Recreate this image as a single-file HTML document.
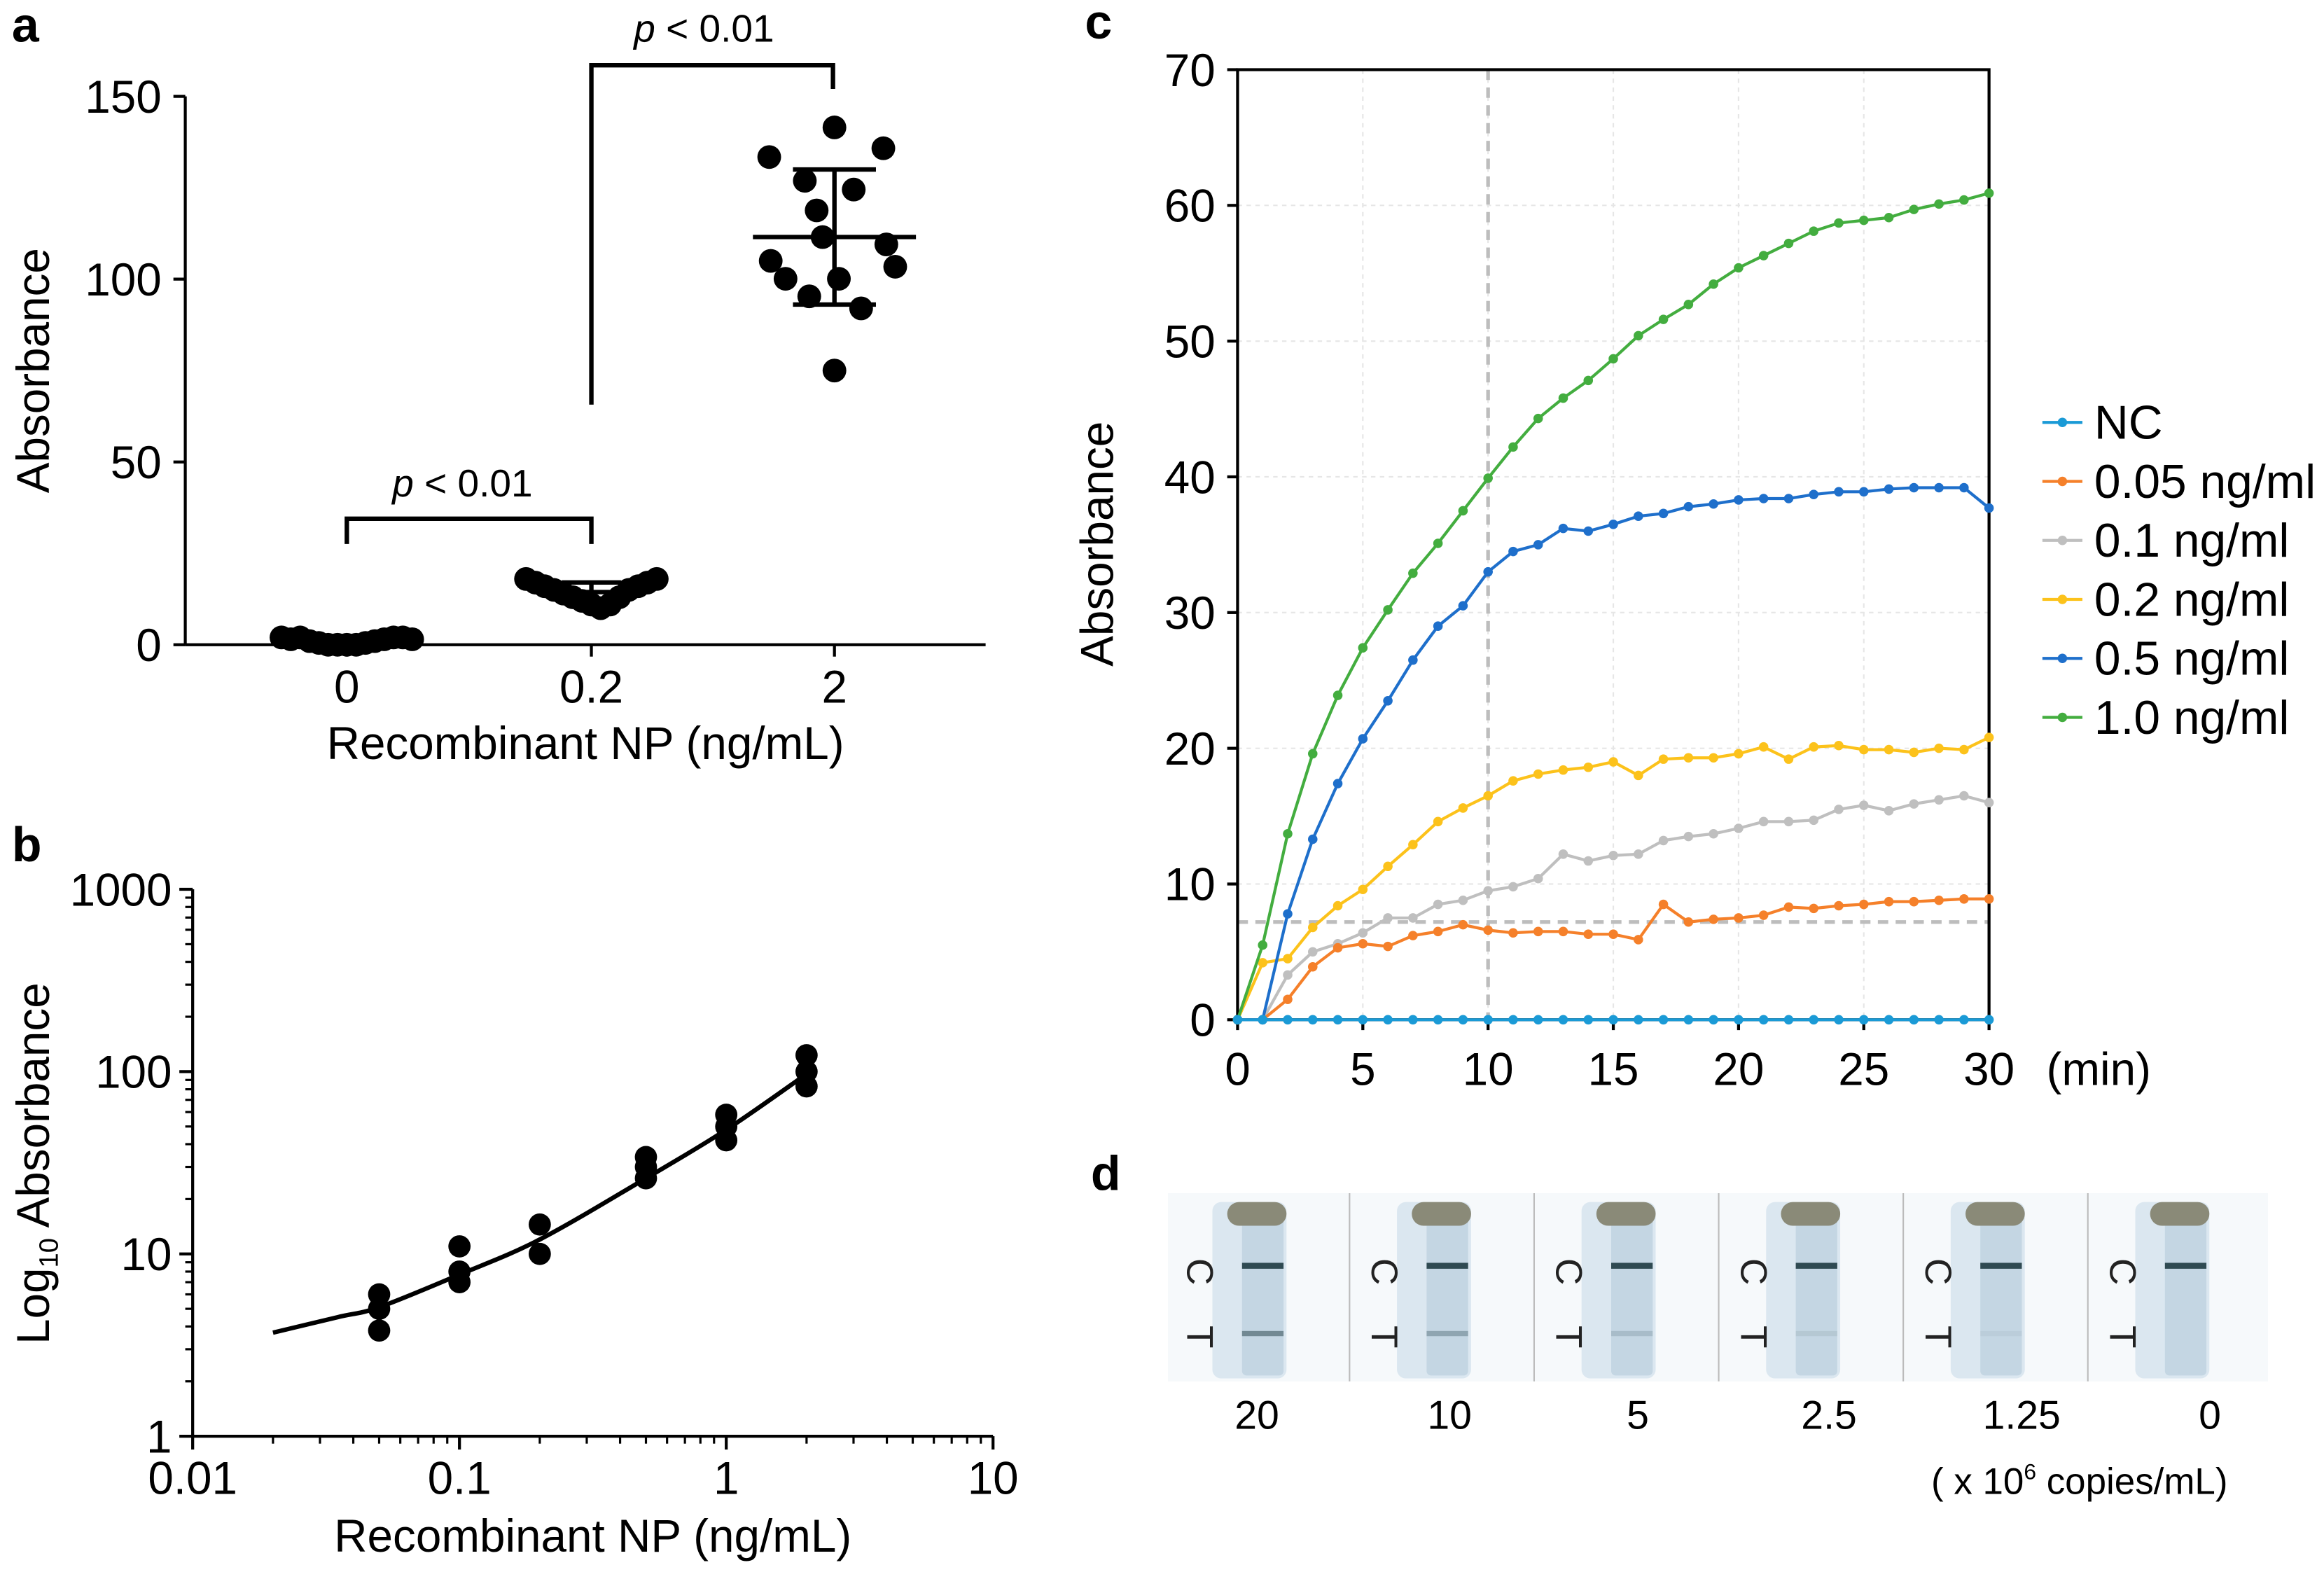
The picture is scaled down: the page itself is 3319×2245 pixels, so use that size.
<!DOCTYPE html>
<html><head><meta charset="utf-8">
<style>
html,body{margin:0;padding:0;background:#fff;}
svg{display:block;font-family:"Liberation Sans",Arial,sans-serif;}
</style></head>
<body>
<svg id="fig" width="3319" height="2245" viewBox="0 0 1568 1060.6" xmlns="http://www.w3.org/2000/svg">
<rect width="1568" height="1061" fill="#fff"/>
<g id="pa"></g>
<g id="pb"></g>
<g id="pc"></g>
<g id="pd"></g>
</svg>
<script>
// ---------- Panel a data ----------
const aCategories = ["0", "0.2", "2"];
const aGroup0 = [2,1.5,2,1,0.5,0,0,0,0,0.5,1,1.5,2,2,1.5];
const aGroup02 = [18,17,16,15,14,13,12,11,10,11,13,15,16,17,18];
const aGroup2 = [133.4,141.5,135.8,126.9,124.5,118.8,105,111.5,109.5,103.4,100.1,100.1,95.3,92,75];
const aGroup2Offsets = [-44,0,33,-20,13,-12,-43,-8,35,41,-33,3,-17,18,0];
const aYTicks = [0,50,100,150];
// ---------- Panel b data ----------
const bConc = [0.05,0.05,0.05,0.1,0.1,0.1,0.2,0.2,0.5,0.5,0.5,1,1,1,2,2,2];
const bAbs = [6,5,3.8,11,8,7,14.5,10,34,30,26,58,50,42,123,100,83];
const bFitX = [0.02,0.035,0.05,0.1,0.2,0.5,1,2];
const bFitY = [3.7,4.5,5.1,7.7,12,26,48,97];
const bXTicks = [0.01,0.1,1,10];
const bYTicks = [1,10,100,1000];
// ---------- Panel c data ----------
const cTime = Array.from({length:31},(_,i)=>i);
const cSeriesNames = ["NC","0.05 ng/ml","0.1 ng/ml","0.2 ng/ml","0.5 ng/ml","1.0 ng/ml"];
const cNC = [0,0,0,0,0,0,0,0,0,0,0,0,0,0,0,0,0,0,0,0,0,0,0,0,0,0,0,0,0,0,0];
const c005 = [0,0,1.5,3.9,5.3,5.6,5.4,6.2,6.5,7.0,6.6,6.4,6.5,6.5,6.3,6.3,5.9,8.5,7.2,7.4,7.5,7.7,8.3,8.2,8.4,8.5,8.7,8.7,8.8,8.9,8.9];
const c01 = [0,0,3.3,5.0,5.6,6.4,7.5,7.5,8.5,8.8,9.5,9.8,10.4,12.2,11.7,12.1,12.2,13.2,13.5,13.7,14.1,14.6,14.6,14.7,15.5,15.8,15.4,15.9,16.2,16.5,16.0];
const c02 = [0,4.2,4.5,6.8,8.4,9.6,11.3,12.9,14.6,15.6,16.5,17.6,18.1,18.4,18.6,19.0,18.0,19.2,19.3,19.3,19.6,20.1,19.2,20.1,20.2,19.9,19.9,19.7,20.0,19.9,20.8];
const c05 = [0,0,7.8,13.3,17.4,20.7,23.5,26.5,29.0,30.5,33.0,34.5,35.0,36.2,36.0,36.5,37.1,37.3,37.8,38.0,38.3,38.4,38.4,38.7,38.9,38.9,39.1,39.2,39.2,39.2,37.7];
const c10 = [0,5.5,13.7,19.6,23.9,27.4,30.2,32.9,35.1,37.5,39.9,42.2,44.3,45.8,47.1,48.7,50.4,51.6,52.7,54.2,55.4,56.3,57.2,58.1,58.7,58.9,59.1,59.7,60.1,60.4,60.9];
const cXTicks = [0,5,10,15,20,25,30];
const cYTicks = [0,10,20,30,40,50,60,70];
const cCutoff = 7.2;
const cVLine = 10;
// ---------- Panel d data ----------
const dLabels = ["20","10","5","2.5","1.25","0"];
const dTIntensity = [0.55,0.35,0.18,0.1,0.06,0];

const NS="http://www.w3.org/2000/svg";
function mk(parent,tag,attrs,text){const e=document.createElementNS(NS,tag);for(const k in attrs)e.setAttribute(k,attrs[k]);if(text!==undefined)e.textContent=text;parent.appendChild(e);return e;}
const BLK="#000";
const TF=31;

// ================= Panel A =================
(function(){
const g=document.getElementById('pa');
const y0=435,yTop=65,yMax=150;
const ay=v=>y0-(v/yMax)*(y0-yTop);
const catX=[234,399,563];
let t=mk(g,'text',{x:8,y:28,'font-size':33,'font-weight':'bold'},'a');

let l=mk(g,'line',{x1:125,y1:ay(150),x2:125,y2:y0,stroke:BLK,'stroke-width':2});

l=mk(g,'line',{x1:125,y1:y0,x2:665,y2:y0,stroke:BLK,'stroke-width':2});

aYTicks.forEach(v=>{mk(g,'line',{x1:117,y1:ay(v),x2:125,y2:ay(v),stroke:BLK,'stroke-width':2});
 const tt=mk(g,'text',{x:109,y:ay(v)+11,'font-size':TF,'text-anchor':'end'},String(v));
 });
aCategories.forEach((c,i)=>{mk(g,'line',{x1:catX[i],y1:y0,x2:catX[i],y2:y0+8,stroke:BLK,'stroke-width':2});
 const tt=mk(g,'text',{x:catX[i],y:474,'font-size':TF,'text-anchor':'middle'},c);
 });
t=mk(g,'text',{x:0,y:0,'font-size':TF,'text-anchor':'middle',transform:'translate(33,250) rotate(-90)'},'Absorbance');

t=mk(g,'text',{x:395,y:512,'font-size':TF,'text-anchor':'middle'},'Recombinant NP (ng/mL)');

function stats(a){const m=a.reduce((s,v)=>s+v,0)/a.length;const sd=Math.sqrt(a.reduce((s,v)=>s+(v-m)*(v-m),0)/(a.length-1));return [m,sd];}
const groups=[aGroup0,aGroup02,aGroup2];
groups.forEach((arr,gi)=>{
 const n=arr.length;
 arr.forEach((v,i)=>{
  const off = gi===2 ? aGroup2Offsets[i] : (i-(n-1)/2)*6.3;
  const c=mk(g,'circle',{cx:catX[gi]+off,cy:ay(v),r:8,fill:BLK});
  
 });
 const [m,sd]=stats(arr);
 const hw= gi===2?55:35, ew=gi===2?28:20;
 let ml=mk(g,'line',{x1:catX[gi]-hw,y1:ay(m),x2:catX[gi]+hw,y2:ay(m),stroke:BLK,'stroke-width':3});
 
 mk(g,'line',{x1:catX[gi],y1:ay(m+sd),x2:catX[gi],y2:ay(m-sd),stroke:BLK,'stroke-width':3});
 mk(g,'line',{x1:catX[gi]-ew,y1:ay(m+sd),x2:catX[gi]+ew,y2:ay(m+sd),stroke:BLK,'stroke-width':3});
 mk(g,'line',{x1:catX[gi]-ew,y1:ay(m-sd),x2:catX[gi]+ew,y2:ay(m-sd),stroke:BLK,'stroke-width':3});
});
let b=mk(g,'polyline',{points:`234,367 234,350 399,350 399,367`,fill:'none',stroke:BLK,'stroke-width':3});

b=mk(g,'polyline',{points:`399,273 399,44 562,44 562,60`,fill:'none',stroke:BLK,'stroke-width':3});

[[312,335],[475,28]].forEach(p=>{const tx=mk(g,'text',{x:p[0],y:p[1],'font-size':26,'text-anchor':'middle'});
 
 mk(tx,'tspan',{'font-style':'italic'},'p');mk(tx,'tspan',{},' < 0.01');});
})();

// ================= Panel B =================
(function(){
const g=document.getElementById('pb');
const xL=130,dx=180,yB=969,dy=123;
const bx=v=>xL+(Math.log10(v)+2)*dx;
const by=v=>yB-Math.log10(v)*dy;
let t=mk(g,'text',{x:8,y:581,'font-size':33,'font-weight':'bold'},'b');

let l=mk(g,'line',{x1:xL,y1:by(1000),x2:xL,y2:yB,stroke:BLK,'stroke-width':2});

l=mk(g,'line',{x1:xL,y1:yB,x2:bx(10),y2:yB,stroke:BLK,'stroke-width':2});

for(let d=0;d<3;d++)for(let k=2;k<=9;k++){const v=Math.pow(10,d)*k;
 mk(g,'line',{x1:xL-5,y1:by(v),x2:xL,y2:by(v),stroke:BLK,'stroke-width':1.5});}
for(let d=-2;d<1;d++)for(let k=2;k<=9;k++){const v=Math.pow(10,d)*k;
 mk(g,'line',{x1:bx(v),y1:yB,x2:bx(v),y2:yB+5,stroke:BLK,'stroke-width':1.5});}
bYTicks.forEach(v=>{mk(g,'line',{x1:xL-9,y1:by(v),x2:xL,y2:by(v),stroke:BLK,'stroke-width':2});
 const tt=mk(g,'text',{x:xL-14,y:by(v)+11,'font-size':TF,'text-anchor':'end'},String(v));
 });
bXTicks.forEach(v=>{mk(g,'line',{x1:bx(v),y1:yB,x2:bx(v),y2:yB+9,stroke:BLK,'stroke-width':2});
 const tt=mk(g,'text',{x:bx(v),y:1008,'font-size':TF,'text-anchor':'middle'},String(v));
 });
t=mk(g,'text',{x:0,y:0,'font-size':TF,'text-anchor':'middle',transform:'translate(33,785) rotate(-90)'});

mk(t,'tspan',{},'Log');mk(t,'tspan',{'font-size':18,dy:6},'10');mk(t,'tspan',{dy:-6},' Absorbance');
t=mk(g,'text',{x:400,y:1047,'font-size':TF,'text-anchor':'middle'},'Recombinant NP (ng/mL)');

const pts=bFitX.map((x,i)=>[bx(x),by(bFitY[i])]);
let dstr='M'+pts[0].join(',');
for(let i=1;i<pts.length;i++){const p0=pts[Math.max(0,i-2)],p1=pts[i-1],p2=pts[i],p3=pts[Math.min(pts.length-1,i+1)];
 dstr+=` C${p1[0]+(p2[0]-p0[0])/6},${p1[1]+(p2[1]-p0[1])/6} ${p2[0]-(p3[0]-p1[0])/6},${p2[1]-(p3[1]-p1[1])/6} ${p2[0]},${p2[1]}`;}
const fit=mk(g,'path',{d:dstr,fill:'none',stroke:BLK,'stroke-width':3});

bConc.forEach((x,i)=>{const c=mk(g,'circle',{cx:bx(x),cy:by(bAbs[i]),r:7.5,fill:BLK});
 });
})();

// ================= Panel C =================
(function(){
const g=document.getElementById('pc');
const x0=835,x1=1342,y0=688,y1=47;
const cx=v=>x0+v/30*(x1-x0);
const cy=v=>y0-v/70*(y0-y1);
let t=mk(g,'text',{x:732,y:26,'font-size':33,'font-weight':'bold'},'c');

cXTicks.forEach(v=>{if(v>0&&v<30)mk(g,'line',{x1:cx(v),y1:y1,x2:cx(v),y2:y0,stroke:'#e6e6e6','stroke-width':1,'stroke-dasharray':'3,3'});});
cYTicks.forEach(v=>{if(v>0&&v<70)mk(g,'line',{x1:x0,y1:cy(v),x2:x1,y2:cy(v),stroke:'#e6e6e6','stroke-width':1,'stroke-dasharray':'3,3'});});
let rl=mk(g,'line',{x1:cx(cVLine),y1:y1,x2:cx(cVLine),y2:y0,stroke:'#bdbdbd','stroke-width':2.5,'stroke-dasharray':'7,5'});

rl=mk(g,'line',{x1:x0,y1:cy(cCutoff),x2:x1,y2:cy(cCutoff),stroke:'#bdbdbd','stroke-width':2.5,'stroke-dasharray':'7,5'});

const fr=mk(g,'rect',{x:x0,y:y1,width:x1-x0,height:y0-y1,fill:'none',stroke:BLK,'stroke-width':2});

cYTicks.forEach(v=>{mk(g,'line',{x1:x0-7,y1:cy(v),x2:x0,y2:cy(v),stroke:BLK,'stroke-width':2});
 const tt=mk(g,'text',{x:x0-15,y:cy(v)+11,'font-size':TF,'text-anchor':'end'},String(v));
 });
cXTicks.forEach(v=>{mk(g,'line',{x1:cx(v),y1:y0,x2:cx(v),y2:y0+7,stroke:BLK,'stroke-width':2});
 const tt=mk(g,'text',{x:cx(v),y:732,'font-size':TF,'text-anchor':'middle'},String(v));
 });
t=mk(g,'text',{x:1416,y:732,'font-size':TF,'text-anchor':'middle'},'(min)');

t=mk(g,'text',{x:0,y:0,'font-size':TF,'text-anchor':'middle',transform:'translate(751,367) rotate(-90)'},'Absorbance');

const series=[cNC,c005,c01,c02,c05,c10];
const colors=['#1a9ad6','#f5802a','#bfbfbf','#fcc21b','#1e6fcb','#43ad3f'];
const order=[2,1,3,4,5,0];
order.forEach(si=>{
 const arr=series[si];
 const p=mk(g,'polyline',{points:arr.map((v,i)=>cx(cTime[i])+','+cy(v)).join(' '),fill:'none',stroke:colors[si],'stroke-width':2});
 
 arr.forEach((v,i)=>{const c=mk(g,'circle',{cx:cx(cTime[i]),cy:cy(v),r:3.2,fill:colors[si]});
  });
});
cSeriesNames.forEach((n,i)=>{const ly=285+i*39.8;
 const le=mk(g,'g',{});
 mk(le,'line',{x1:1378,y1:ly,x2:1405,y2:ly,stroke:colors[i],'stroke-width':2});
 mk(le,'circle',{cx:1391.5,cy:ly,r:3.2,fill:colors[i]});
 mk(le,'text',{x:1413,y:ly+11,'font-size':32},n);});
})();

// ================= Panel D =================
(function(){
const g=document.getElementById('pd');
let t=mk(g,'text',{x:736,y:803,'font-size':33,'font-weight':'bold'},'d');

const fx0=788,fw=123.7,fy=805,fh=127;
const bg=mk(g,'rect',{x:fx0,y:fy,width:fw*6,height:fh,fill:'#f6f9fb'});

const labX=[848,978,1105,1234,1364,1491];
dLabels.forEach((lab,i)=>{
 const x=fx0+i*fw+ (i*5/6);
 const s=mk(g,'g',{});
 if(i>0)mk(s,'line',{x1:x-2,y1:fy,x2:x-2,y2:fy+fh,stroke:'#bbb','stroke-width':1});
 mk(s,'rect',{x:x+30,y:fy+6,width:50,height:fh-8,rx:6,fill:'#dbe7f0'});
 mk(s,'rect',{x:x+50,y:fy+10,width:28,height:fh-14,rx:3,fill:'#c4d6e3'});
 mk(s,'rect',{x:x+40,y:fy+6,width:40,height:16,rx:8,fill:'#8a8a78'});
 mk(s,'rect',{x:x+50,y:fy+47,width:28,height:4,fill:'#2f4a52'});
 if(dTIntensity[i]>0)mk(s,'rect',{x:x+50,y:fy+93,width:28,height:3.5,fill:'#2f4a52',opacity:dTIntensity[i]});
 mk(s,'text',{x:0,y:0,'font-size':25,'text-anchor':'middle',fill:'#222',transform:`translate(${x+13},${fy+53}) rotate(90)`},'C');
 mk(s,'text',{x:0,y:0,'font-size':25,'text-anchor':'middle',fill:'#222',transform:`translate(${x+13},${fy+97}) rotate(90)`},'T');
 const tt=mk(g,'text',{x:labX[i],y:964,'font-size':27,'text-anchor':'middle'},lab);
 
});
t=mk(g,'text',{x:1403,y:1008,'font-size':25,'text-anchor':'middle'});

mk(t,'tspan',{},'( x 10');mk(t,'tspan',{'font-size':15,dy:-10},'6');mk(t,'tspan',{dy:10},' copies/mL)');
})();
</script>
</body></html>
